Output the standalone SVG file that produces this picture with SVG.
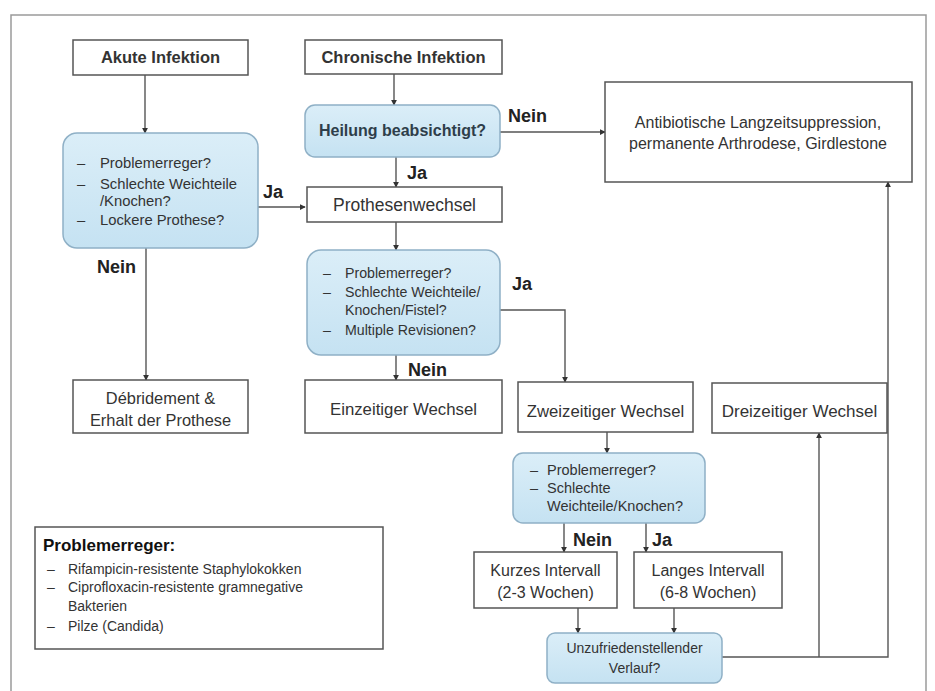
<svg xmlns="http://www.w3.org/2000/svg" width="935" height="691" viewBox="0 0 935 691">
<style>
text{font-family:"Liberation Sans",Arial,sans-serif;fill:#333}
.box{fill:#fff;stroke:#555;stroke-width:1.5}
.q{fill:url(#blue);stroke:#8fb0c6;stroke-width:1.5}
.b{font-weight:bold}
.c{text-anchor:middle}
.lbl{font-weight:bold;font-size:18px;fill:#222}
.con{fill:none;stroke:#555;stroke-width:1.4}
.arr{marker-end:url(#ah)}
</style>
<defs>
<linearGradient id="blue" x1="0" y1="0" x2="0" y2="1">
<stop offset="0" stop-color="#dbeef8"/>
<stop offset="1" stop-color="#c5e2f2"/>
</linearGradient>
<marker id="ah" viewBox="0 0 8 8" refX="7" refY="4" markerWidth="6" markerHeight="6" orient="auto" markerUnits="userSpaceOnUse">
<path d="M0,0 L8,4 L0,8 z" fill="#333"/>
</marker>
</defs>
<rect width="935" height="691" fill="#fff"/>
<path d="M11,691 V15 H926 V691" fill="none" stroke="#9a9a9a" stroke-width="1.5"/>

<g id="connectors">
<path class="con arr" d="M145,75 V133"/>
<path class="con arr" d="M146,248 V380"/>
<path class="con arr" d="M258,207 H305"/>
<path class="con arr" d="M394,74 V105"/>
<path class="con arr" d="M500,132 H605"/>
<path class="con arr" d="M396,157 V187"/>
<path class="con arr" d="M396,222 V250"/>
<path class="con arr" d="M396,355 V380"/>
<path class="con arr" d="M500,310 H565 V382"/>
<path class="con arr" d="M607,432 V453"/>
<path class="con arr" d="M564,523 V552"/>
<path class="con arr" d="M646,523 V552"/>
<path class="con arr" d="M578,608 V633"/>
<path class="con arr" d="M674,608 V633"/>
<path class="con arr" d="M722,657 H888 V182"/>
<path class="con arr" d="M819,657 V433"/>
<text class="lbl" x="263" y="198">Ja</text>
<text class="lbl" x="508" y="122">Nein</text>
<text class="lbl" x="407" y="179">Ja</text>
<text class="lbl" x="97" y="273">Nein</text>
<text class="lbl" x="512" y="290">Ja</text>
<text class="lbl" x="408" y="376">Nein</text>
<text class="lbl" x="573" y="546">Nein</text>
<text class="lbl" x="652" y="546">Ja</text>
</g>

<g id="akut">
<rect class="box" x="73" y="40" width="175" height="35"/>
<text class="c b" x="160.5" y="63" font-size="16.5">Akute Infektion</text>
</g>
<g id="chronisch">
<rect class="box" x="305" y="40" width="197" height="34"/>
<text class="c b" x="403.5" y="63" font-size="16.5">Chronische Infektion</text>
</g>
<g id="heilung">
<rect class="q" x="305" y="105" width="195" height="52" rx="10"/>
<text class="c b" x="402.5" y="136" font-size="16" style="fill:#2e3e4a">Heilung beabsichtigt?</text>
</g>
<g id="antibiotisch">
<rect class="box" x="605" y="82" width="307" height="100"/>
<text class="c" x="758" y="128" font-size="16">Antibiotische Langzeitsuppression,</text>
<text class="c" x="758" y="149" font-size="16">permanente Arthrodese, Girdlestone</text>
</g>
<g id="frage1">
<rect class="q" x="63" y="133" width="195" height="115" rx="14"/>
<g font-size="14.8">
<text x="77" y="168">–</text><text x="100" y="168">Problemerreger?</text>
<text x="77" y="189">–</text><text x="100" y="189">Schlechte Weichteile</text>
<text x="100" y="206">/Knochen?</text>
<text x="77" y="225">–</text><text x="100" y="225">Lockere Prothese?</text>
</g>
</g>
<g id="prothesenwechsel">
<rect class="box" x="307" y="187" width="195" height="35"/>
<text class="c" x="404.5" y="211" font-size="17.5">Prothesenwechsel</text>
</g>
<g id="frage2">
<rect class="q" x="307" y="250" width="193" height="105" rx="14"/>
<g font-size="14.2">
<text x="323" y="278">–</text><text x="345" y="278">Problemerreger?</text>
<text x="323" y="297">–</text><text x="345" y="297">Schlechte Weichteile/</text>
<text x="345" y="315">Knochen/Fistel?</text>
<text x="323" y="335">–</text><text x="345" y="335">Multiple Revisionen?</text>
</g>
</g>
<g id="debridement">
<rect class="box" x="73" y="380" width="175" height="53"/>
<text class="c" x="160.5" y="404" font-size="16.4">Débridement &amp;</text>
<text class="c" x="160.5" y="426" font-size="16.4">Erhalt der Prothese</text>
</g>
<g id="einzeitig">
<rect class="box" x="305" y="380" width="197" height="53"/>
<text class="c" x="403.5" y="415" font-size="16.8">Einzeitiger Wechsel</text>
</g>
<g id="zweizeitig">
<rect class="box" x="518" y="382" width="175" height="50"/>
<text class="c" x="605.5" y="417" font-size="16.7">Zweizeitiger Wechsel</text>
</g>
<g id="dreizeitig">
<rect class="box" x="712" y="383" width="175" height="50"/>
<text class="c" x="799.5" y="417" font-size="17">Dreizeitiger Wechsel</text>
</g>
<g id="frage3">
<rect class="q" x="513" y="453" width="192" height="70" rx="10"/>
<g font-size="14.5">
<text x="530" y="475">–</text><text x="547" y="475">Problemerreger?</text>
<text x="530" y="493">–</text><text x="547" y="493">Schlechte</text>
<text x="547" y="511">Weichteile/Knochen?</text>
</g>
</g>
<g id="kurz">
<rect class="box" x="474" y="552" width="143" height="56"/>
<text class="c" x="545.5" y="576" font-size="16">Kurzes Intervall</text>
<text class="c" x="545.5" y="598" font-size="16">(2-3 Wochen)</text>
</g>
<g id="lang">
<rect class="box" x="634" y="552" width="148" height="56"/>
<text class="c" x="708" y="576" font-size="16">Langes Intervall</text>
<text class="c" x="708" y="598" font-size="16">(6-8 Wochen)</text>
</g>
<g id="unzufrieden">
<rect class="q" x="547" y="633" width="175" height="50" rx="8"/>
<text class="c" x="634.5" y="653" font-size="14">Unzufriedenstellender</text>
<text class="c" x="634.5" y="673" font-size="14">Verlauf?</text>
</g>
<g id="legende">
<rect class="box" x="35" y="527" width="348" height="122"/>
<text class="b" x="43" y="551" font-size="17" style="fill:#111">Problemerreger:</text>
<g font-size="14">
<text x="47" y="574">–</text><text x="68" y="574">Rifampicin-resistente Staphylokokken</text>
<text x="47" y="592">–</text><text x="68" y="592">Ciprofloxacin-resistente gramnegative</text>
<text x="68" y="611">Bakterien</text>
<text x="47" y="631">–</text><text x="68" y="631">Pilze (Candida)</text>
</g>
</g>
</svg>
